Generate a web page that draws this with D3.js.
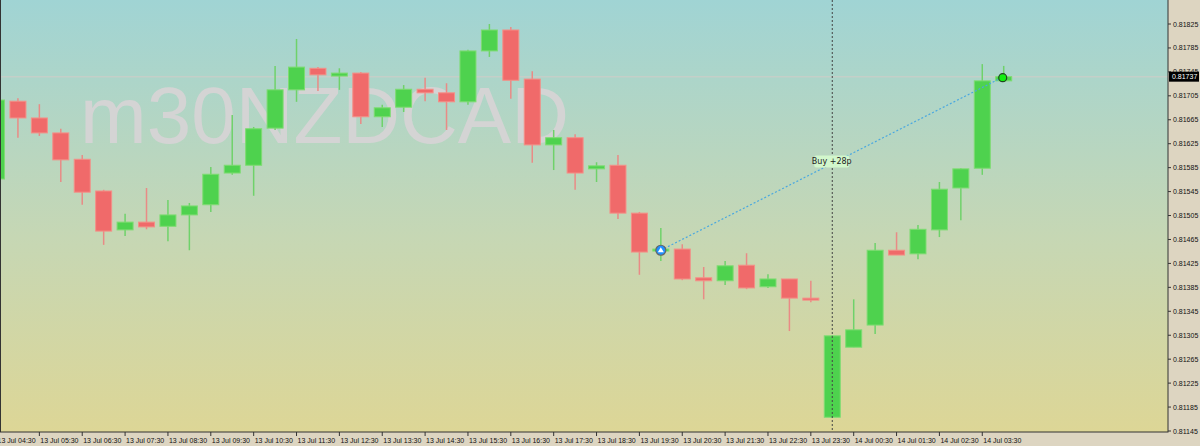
<!DOCTYPE html>
<html>
<head>
<meta charset="utf-8">
<script src="https://cdn.jsdelivr.net/npm/d3@7"></script>
<style>
  body { margin: 0; background: #ddd5c1; }
  svg { display: block; }
</style>
</head>
<body>
<svg id="chart"></svg>
<script>
// 30 min candles, 13 Jul 04:30 .. 14 Jul 04:00
const times = ["13 Jul 04:30","13 Jul 05:00","13 Jul 05:30","13 Jul 06:00","13 Jul 06:30","13 Jul 07:00","13 Jul 07:30","13 Jul 08:00","13 Jul 08:30","13 Jul 09:00","13 Jul 09:30","13 Jul 10:00","13 Jul 10:30","13 Jul 11:00","13 Jul 11:30","13 Jul 12:00","13 Jul 12:30","13 Jul 13:00","13 Jul 13:30","13 Jul 14:00","13 Jul 14:30","13 Jul 15:00","13 Jul 15:30","13 Jul 16:00","13 Jul 16:30","13 Jul 17:00","13 Jul 17:30","13 Jul 18:00","13 Jul 18:30","13 Jul 19:00","13 Jul 19:30","13 Jul 20:00","13 Jul 20:30","13 Jul 21:00","13 Jul 21:30","13 Jul 22:00","13 Jul 22:30","13 Jul 23:00","13 Jul 23:30","14 Jul 00:00","14 Jul 00:30","14 Jul 01:00","14 Jul 01:30","14 Jul 02:00","14 Jul 02:30","14 Jul 03:00","14 Jul 03:30","14 Jul 04:00"]
const open  = [0.81566,0.81696,0.81668,0.81643,0.81599,0.81546,0.81481,0.81494,0.81487,0.81506,0.81523,0.81576,0.81589,0.81651,0.81715,0.81751,0.81738,0.81743,0.81670,0.81686,0.81716,0.81710,0.81695,0.81780,0.81815,0.81733,0.81623,0.81635,0.81583,0.81589,0.81509,0.81447,0.81449,0.81401,0.81396,0.81422,0.81386,0.81399,0.81367,0.81168,0.81285,0.81322,0.81447,0.81441,0.81481,0.81551,0.81584,0.81730]
const high  = [0.81701,0.81701,0.81691,0.81650,0.81606,0.81548,0.81508,0.81551,0.81531,0.81526,0.81586,0.81673,0.81653,0.81755,0.81800,0.81753,0.81751,0.81745,0.81690,0.81723,0.81735,0.81726,0.81782,0.81825,0.81820,0.81746,0.81648,0.81641,0.81594,0.81606,0.81511,0.81484,0.81457,0.81419,0.81429,0.81442,0.81407,0.81399,0.81396,0.81305,0.81365,0.81459,0.81477,0.81489,0.81561,0.81584,0.81758,0.81755]
const low   = [0.81564,0.81635,0.81638,0.81561,0.81523,0.81456,0.81471,0.81482,0.81462,0.81447,0.81511,0.81573,0.81538,0.81648,0.81695,0.81713,0.81715,0.81658,0.81653,0.81678,0.81696,0.81648,0.81690,0.81770,0.81700,0.81593,0.81581,0.81548,0.81561,0.81499,0.81406,0.81429,0.81397,0.81365,0.81389,0.81382,0.81384,0.81312,0.81360,0.81167,0.81285,0.81307,0.81439,0.81432,0.81469,0.81497,0.81573,0.81730]
const close = [0.81698,0.81668,0.81643,0.81598,0.81544,0.81479,0.81494,0.81486,0.81506,0.81521,0.81574,0.81589,0.81650,0.81715,0.81753,0.81740,0.81743,0.81670,0.81685,0.81716,0.81710,0.81695,0.81780,0.81815,0.81731,0.81623,0.81635,0.81576,0.81588,0.81509,0.81444,0.81449,0.81399,0.81396,0.81421,0.81384,0.81399,0.81367,0.81364,0.81304,0.81314,0.81447,0.81439,0.81482,0.81549,0.81583,0.81730,0.81737]
const priceTicks = [0.81825,0.81785,0.81745,0.81705,0.81665,0.81625,0.81585,0.81545,0.81505,0.81465,0.81425,0.81385,0.81345,0.81305,0.81265,0.81225,0.81185,0.81145]
const symbol = "m30NZDCAD"
const trade = {openIdx: 31, openPrice: 0.81447, closeIdx: 47, closePrice: 0.81737, label: "Buy +28p"}
const separatorIdx = 39
const currentPrice = 0.81737

const W = 1200, H = 446, plotR = 1168, plotB = 432
const axisFont = "Liberation Sans, Arial"

const svg = d3.select("#chart").attr("width", W).attr("height", H)

const x = d3.scaleLinear().domain([0, 1]).range([-3.5, -3.5 + 21.43])
const y = d3.scaleLinear().domain([0.81825, 0.81145]).range([24, 431])

const defs = svg.append("defs")
const grad = defs.append("linearGradient").attr("id", "bg").attr("x1", 0).attr("y1", 0).attr("x2", 0).attr("y2", 1)
grad.append("stop").attr("offset", "0%").attr("stop-color", "#a0d4d4")
grad.append("stop").attr("offset", "55%").attr("stop-color", "#c6d7b4")
grad.append("stop").attr("offset", "100%").attr("stop-color", "#ddd696")
defs.append("clipPath").attr("id", "clip").append("rect").attr("width", plotR).attr("height", plotB)

svg.append("rect").attr("width", plotR).attr("height", plotB).attr("fill", "url(#bg)")

const plot = svg.append("g").attr("clip-path", "url(#clip)")

plot.append("text")
  .attr("x", 80).attr("y", 143)
  .attr("font-family", "Liberation Sans, Arial").attr("font-size", 80)
  .attr("fill", "#d4d4d4")
  .text(symbol)

plot.append("line")
  .attr("x1", 0).attr("x2", plotR).attr("y1", y(currentPrice)).attr("y2", y(currentPrice))
  .attr("stroke", "#c4cfc8").attr("stroke-width", 1.5)

const candles = times.map((t, i) => ({i, o: open[i], h: high[i], l: low[i], c: close[i]}))
const bw = 16
const g = plot.selectAll(".candle").data(candles).enter().append("g").attr("class", "candle")
g.append("line")
  .attr("x1", d => x(d.i)).attr("x2", d => x(d.i))
  .attr("y1", d => y(d.h)).attr("y2", d => y(d.l))
  .attr("stroke", d => d.c >= d.o ? "#6fd26a" : "#e98b86").attr("stroke-width", 1.5)
g.append("rect")
  .attr("x", d => x(d.i) - bw / 2)
  .attr("y", d => y(Math.max(d.o, d.c)))
  .attr("width", bw)
  .attr("height", d => Math.max(2, Math.abs(y(d.o) - y(d.c))))
  .attr("fill", d => d.c >= d.o ? "#4ed24e" : "#f06a6a")
  .attr("stroke", d => d.c >= d.o ? "#7edc72" : "#f49088").attr("stroke-width", 1)

// separator
plot.append("line")
  .attr("x1", x(separatorIdx)).attr("x2", x(separatorIdx)).attr("y1", 0).attr("y2", plotB)
  .attr("stroke", "#444").attr("stroke-dasharray", "2,2")

// trade line
plot.append("line")
  .attr("x1", x(trade.openIdx)).attr("y1", y(trade.openPrice))
  .attr("x2", x(trade.closeIdx)).attr("y2", y(trade.closePrice))
  .attr("stroke", "#4aa8e0").attr("stroke-dasharray", "2,2").attr("stroke-width", 1.2)

// label sits on the trade line at the separator
const mx = x(separatorIdx)
const my = y(trade.openPrice) + (y(trade.closePrice) - y(trade.openPrice)) * ((mx - x(trade.openIdx)) / (x(trade.closeIdx) - x(trade.openIdx)))
plot.append("rect").attr("x", mx - 18).attr("y", my - 8).attr("width", 35).attr("height", 12)
  .attr("fill", "#d2f7cc").attr("rx", 2)
plot.append("text").attr("x", mx - 0.5).attr("y", my + 1).attr("text-anchor", "middle")
  .attr("font-family", "DejaVu Sans").attr("font-size", 8).attr("fill", "#222").text(trade.label)

// open marker
const ox = x(trade.openIdx), oy = y(trade.openPrice)
plot.append("circle").attr("cx", ox).attr("cy", oy).attr("r", 5).attr("fill", "#1e90ff").attr("stroke", "#666").attr("stroke-width", 1.2)
plot.append("path").attr("d", `M${ox - 3},${oy + 2}L${ox},${oy - 3}L${ox + 3},${oy + 2}Z`).attr("fill", "#fff")
// close marker
plot.append("circle").attr("cx", x(trade.closeIdx) - 1).attr("cy", y(trade.closePrice) + 1).attr("r", 4)
  .attr("fill", "#11ee11").attr("stroke", "#224422").attr("stroke-width", 1.2)

// frame
svg.append("rect").attr("x", 0.5).attr("y", -1).attr("width", plotR - 0.5).attr("height", plotB + 1)
  .attr("fill", "none").attr("stroke", "#333")

// price axis
const ya = svg.append("g")
ya.selectAll("line").data(priceTicks).enter().append("line")
  .attr("x1", plotR).attr("x2", plotR + 3).attr("y1", d => y(d)).attr("y2", d => y(d)).attr("stroke", "#333")
ya.selectAll("text").data(priceTicks).enter().append("text")
  .attr("x", plotR + 5).attr("y", d => y(d) + 2.5)
  .attr("font-family", axisFont).attr("font-size", 7).attr("fill", "#111")
  .text(d => d.toFixed(5))
ya.append("rect").attr("x", plotR + 1).attr("y", y(currentPrice) - 5).attr("width", 30).attr("height", 10).attr("fill", "#000")
ya.append("text").attr("x", plotR + 4).attr("y", y(currentPrice) + 2.5)
  .attr("font-family", axisFont).attr("font-size", 7).attr("fill", "#fff").text(currentPrice.toFixed(5))

// time axis
const tIdx = d3.range(0, times.length, 2)
const xa = svg.append("g")
xa.selectAll("line").data(tIdx).enter().append("line")
  .attr("x1", d => x(d)).attr("x2", d => x(d)).attr("y1", plotB).attr("y2", plotB + 4).attr("stroke", "#333")
xa.selectAll("text").data(tIdx).enter().append("text")
  .attr("x", d => x(d) + 1).attr("y", plotB + 11)
  .attr("font-family", axisFont).attr("font-size", 7).attr("fill", "#111")
  .text(d => times[d])
</script>
</body>
</html>
